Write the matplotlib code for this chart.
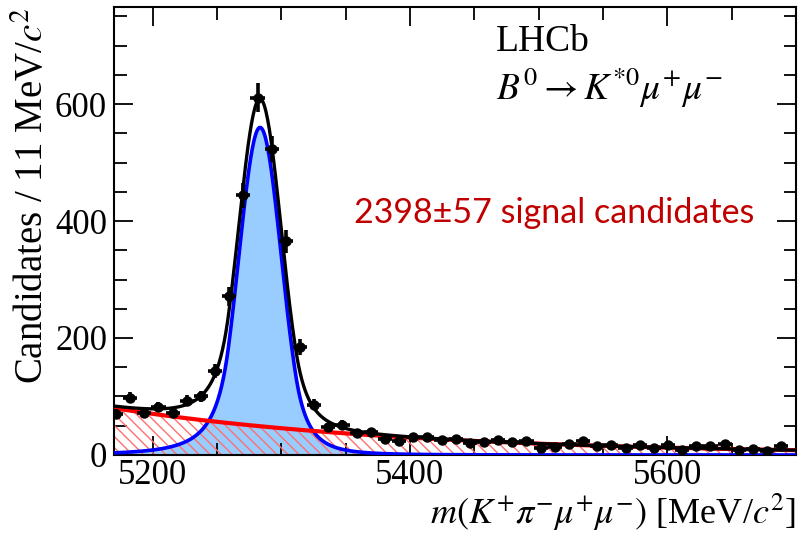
""" B0 -> K*0 mu mu invariant mass fit, LHCb style """

import numpy as np
import matplotlib
matplotlib.use("Agg")
import matplotlib.pyplot as plt
from matplotlib.ticker import MultipleLocator, FixedLocator

# binned data (11 MeV bins)
bin_width = 11.0
first_edge = 5166.0
counts = [70, 98, 72, 82, 72, 93, 100, 144, 271, 444,
          611, 523, 365, 184, 86,
          48, 52, 38, 39, 27, 24, 30, 30, 26, 27,
          21, 23, 26, 22, 24, 12, 13, 19, 24, 15,
          17, 12, 17, 12, 17, 9, 15, 15, 18, 9,
          10, 7, 15]

# fit result
sig_peak = 560.0
sig_mean = 5283.5
sig_sigma = 16.5
sig_alpha_l, sig_n_l = 1.5, 3.0
sig_alpha_r, sig_n_r = 1.7, 4.0
bkg_at_5170 = 80.0
bkg_slope = 0.0043

x_range = (5170, 5700)
y_range = (0, 766)
x_ticks = [5200, 5400, 5600]


def crystal_ball(m, mu, sigma, al, nl, ar, nr):
    """ double sided crystal ball, unit height """
    t = (m - mu) / sigma
    out = np.exp(-0.5 * t ** 2)
    a_l = (nl / al) ** nl * np.exp(-0.5 * al ** 2)
    b_l = nl / al - al
    a_r = (nr / ar) ** nr * np.exp(-0.5 * ar ** 2)
    b_r = nr / ar - ar
    left = t < -al
    right = t > ar
    out[left] = a_l * (b_l - t[left]) ** (-nl)
    out[right] = a_r * (b_r + t[right]) ** (-nr)
    return out


serif = ["Liberation Serif", "DejaVu Serif"]
plt.rcParams["font.family"] = serif
plt.rcParams["mathtext.fontset"] = "stix"
plt.rcParams["hatch.linewidth"] = 1.0

fig = plt.figure(figsize=(7.98, 5.34), dpi=100)
ax = fig.add_axes([0.1429, 0.148, 0.8546, 0.839])

counts = np.array(counts, dtype=float)
centers = first_edge + bin_width * (np.arange(len(counts)) + 0.5)

m = np.linspace(x_range[0], x_range[1], 800)
signal = sig_peak * crystal_ball(m, sig_mean, sig_sigma,
                                 sig_alpha_l, sig_n_l, sig_alpha_r, sig_n_r)
background = bkg_at_5170 * np.exp(-bkg_slope * (m - 5170))
total = signal + background

ax.fill_between(m, 0, signal, color="#99ccff", linewidth=0, zorder=1)
ax.fill_between(m, 0, background, facecolor="none", edgecolor="#ff6f6f",
                hatch="\\\\\\", linewidth=0, zorder=2)
ax.plot(m, signal, color="#0000ff", lw=2.6, zorder=3)
ax.plot(m, background, color="#ff0000", lw=3.0, zorder=4)
ax.plot(m, total, color="black", lw=2.4, zorder=5)

ax.errorbar(centers, counts, xerr=bin_width / 2, yerr=np.sqrt(counts),
            fmt="o", color="black", ms=6.5, elinewidth=2.6, capsize=0,
            zorder=6)

ax.set_xlim(*x_range)
ax.set_ylim(*y_range)

ax.xaxis.set_major_locator(FixedLocator(x_ticks))
ax.xaxis.set_minor_locator(MultipleLocator(50))
ax.yaxis.set_major_locator(MultipleLocator(200))
ax.yaxis.set_minor_locator(MultipleLocator(50))
ax.tick_params(which="both", direction="in", top=True, right=True,
               width=1.3, labelsize=25)
ax.tick_params(axis="x", pad=3)
ax.tick_params(axis="y", pad=5)
ax.tick_params(which="major", length=14)
ax.tick_params(which="minor", length=9)
for lab in ax.get_xticklabels() + ax.get_yticklabels():
    lab.set_fontfamily(serif)
for spine in ax.spines.values():
    spine.set_linewidth(1.5)

ax.set_xlabel(r"$m(K^{+}\pi^{-}\mu^{+}\mu^{-})$ [MeV/$c^2$]",
              fontsize=26, loc="right", labelpad=0)
ax.set_ylabel(r"Candidates / 11 MeV/$c^2$", fontsize=28, loc="top",
              labelpad=2)

ax.text(0.56, 0.96, "LHCb", transform=ax.transAxes, fontsize=27,
        va="top", ha="left")
ax.text(0.56, 0.87, r"$B^0 \rightarrow K^{*0}\mu^{+}\mu^{-}$",
        transform=ax.transAxes, fontsize=27, va="top", ha="left")

ax.text(0.352, 0.54, "2398\u00b157 signal candidates", transform=ax.transAxes,
        fontsize=24.5, color="#c00000", family=["Lato", "DejaVu Sans"],
        va="center", ha="left")

fig.savefig("out.png", dpi=100)
